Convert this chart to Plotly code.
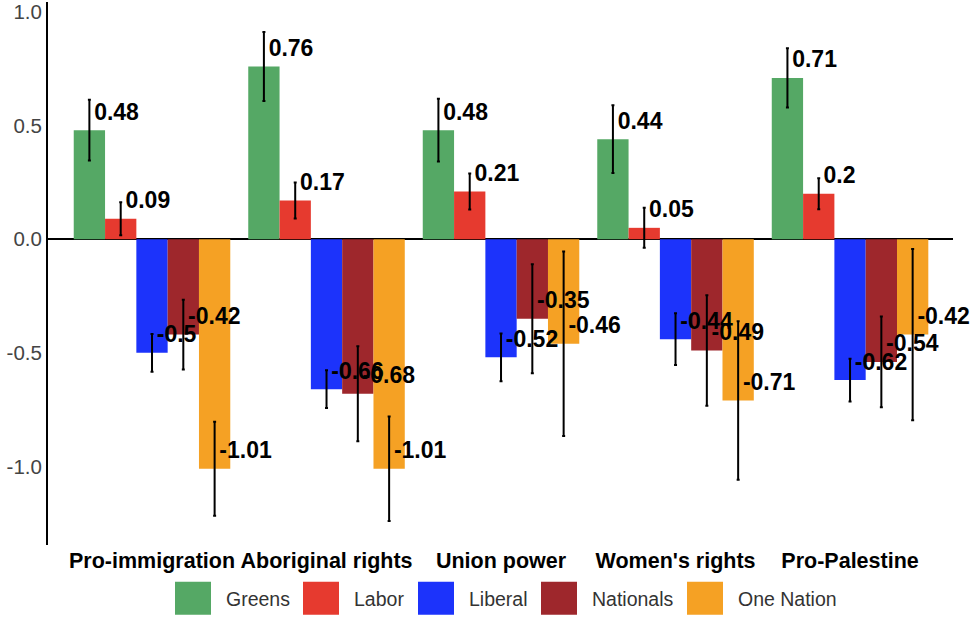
import plotly.graph_objects as go

categories = ["Pro-immigration", "Aboriginal rights", "Union power", "Women's rights", "Pro-Palestine"]
parties = ["Greens", "Labor", "Liberal", "Nationals", "One Nation"]
colors = ["#55A865", "#E63A2F", "#1C33FB", "#9E272C", "#F5A124"]

greens = [0.48, 0.76, 0.48, 0.44, 0.71]
labor = [0.09, 0.17, 0.21, 0.05, 0.20]
liberal = [-0.50, -0.66, -0.52, -0.44, -0.62]
nationals = [-0.42, -0.68, -0.35, -0.49, -0.54]
one_nation = [-1.01, -1.01, -0.46, -0.71, -0.42]

greens_err = [0.134, 0.152, 0.138, 0.149, 0.130]
labor_err = [0.073, 0.079, 0.079, 0.088, 0.068]
liberal_err = [0.083, 0.083, 0.105, 0.114, 0.094]
nationals_err = [0.154, 0.209, 0.240, 0.243, 0.200]
one_nation_err = [0.207, 0.230, 0.406, 0.349, 0.377]

values = [greens, labor, liberal, nationals, one_nation]
errors = [greens_err, labor_err, liberal_err, nationals_err, one_nation_err]

y_ticks = [-1.0, -0.5, 0.0, 0.5, 1.0]
y_ticktext = ["-1.0", "-0.5", "0.0", "0.5", "1.0"]

FONT = "Liberation Sans, Arial, Helvetica, sans-serif"
W, H = 970, 628
ML, MR, MT, MB = 48, 17, 0, 83

fig = go.Figure()
for i, (p, v, e, c) in enumerate(zip(parties, values, errors, colors)):
    fig.add_trace(go.Bar(
        x=categories, y=v, name=p, marker=dict(color=c, line=dict(width=0)),
        offsetgroup=str(i), showlegend=False,
        error_y=dict(type="data", array=e, visible=True, color="black", thickness=2, width=1.5),
    ))
for i, (p, v) in enumerate(zip(parties, values)):
    fig.add_trace(go.Scatter(
        x=categories, y=v, mode="markers+text", text=[f"{val:g}" for val in v],
        marker=dict(size=6, color="rgba(0,0,0,0)"),
        textposition="top right", offsetgroup=str(i), showlegend=False,
        textfont=dict(family=FONT, size=23, color="black", weight="bold"),
        cliponaxis=False, hoverinfo="skip",
    ))

# custom legend (large swatches)
pw = W - ML - MR
ph = H - MT - MB
def px_x(x):
    return (x - ML) / pw
def px_y(y):
    return (H - MB - y) / ph

swatch_left = [175, 303, 418, 541, 687]
shapes = []
annotations = []
for p, c, sx in zip(parties, colors, swatch_left):
    shapes.append(dict(type="rect", xref="paper", yref="paper",
                       x0=px_x(sx), x1=px_x(sx + 36), y0=px_y(615), y1=px_y(582),
                       fillcolor=c, line=dict(width=0)))
    annotations.append(dict(xref="paper", yref="paper", x=px_x(sx + 49), y=px_y(599),
                            text=p, showarrow=False, xanchor="left", yanchor="middle",
                            font=dict(family=FONT, size=19.5, color="#333")))

fig.update_layout(
    width=W, height=H,
    margin=dict(l=ML, r=MR, t=MT, b=MB),
    barmode="group", bargap=0.103, bargroupgap=0,
    scattermode="group", scattergap=0.103,
    plot_bgcolor="white", paper_bgcolor="white",
    font=dict(family=FONT),
    shapes=shapes, annotations=annotations,
    showlegend=False,
)
fig.update_xaxes(range=[-0.596, 4.59], showgrid=False, showline=False, ticks="", tickangle=0,
                 tickfont=dict(family=FONT, size=21.5, color="black", weight="bold"))
fig.update_yaxes(range=[-1.346, 1.044], showgrid=False, zeroline=True, zerolinecolor="black",
                 zerolinewidth=1.5, showline=True, linecolor="black", linewidth=2, ticks="",
                 tickvals=y_ticks, ticktext=y_ticktext, ticklabeloverflow="allow",
                 tickfont=dict(family=FONT, size=20.5, color="#444"))

fig.write_html("out.html")
